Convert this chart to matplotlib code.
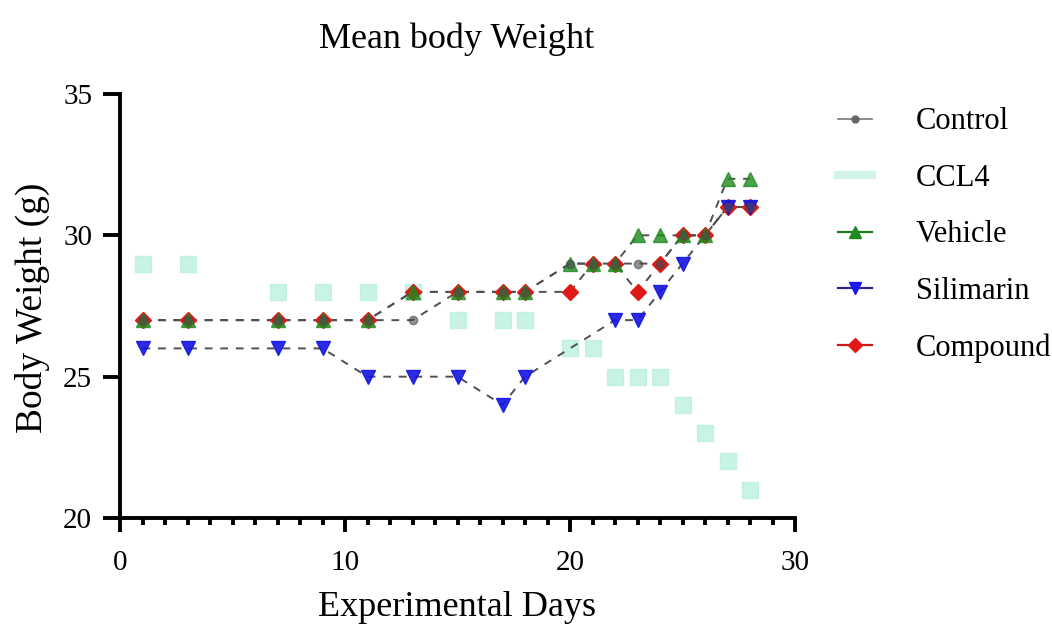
import numpy as np
import matplotlib
matplotlib.use('Agg')
import matplotlib.pyplot as plt
from matplotlib.lines import Line2D

plt.rcParams['font.family'] = ['Liberation Serif', 'DejaVu Serif']

# data
days = [1, 3, 7, 9, 11, 13, 15, 17, 18, 20, 21, 22, 23, 24, 25, 26, 27, 28]
control = [27, 27, 27, 27, 27, 27, 28, 28, 28, 29, 29, 29, 29, 29, 30, 30, 31, 31]
ccl4 = [29, 29, 28, 28, 28, 28, 27, 27, 27, 26, 26, 25, 25, 25, 24, 23, 22, 21]
vehicle = [27, 27, 27, 27, 27, 28, 28, 28, 28, 29, 29, 29, 30, 30, 30, 30, 32, 32]
silimarin = [26, 26, 26, 26, 25, 25, 25, 24, 25, np.nan, np.nan, 27, 27, 28, 29, np.nan, 31, 31]
compound = [27, 27, 27, 27, 27, 28, 28, 28, 28, 28, 29, 29, 28, 29, 30, 30, 31, 31]

labels = ['Control', 'CCL4', 'Vehicle', 'Silimarin', 'Compound']

W, H = 1052, 626
fig = plt.figure(figsize=(W / 100, H / 100), dpi=100)
ax = fig.add_axes([120 / W, 1 - 518 / H, 675 / W, 424 / H])

x = np.array(days, dtype=float)
dash = (4, 4)
line_col = '#505050'

def draw(vals, marker, color, ms, alpha, zorder, line=True):
    y = np.array(vals, dtype=float)
    ok = ~np.isnan(y)
    if line:
        ax.plot(x[ok], y[ok], ls='--', dashes=dash, color=line_col, lw=1.4, zorder=2)
    ax.plot(x[ok], y[ok], ls='none', marker=marker, ms=ms, color=color,
            mec=color, alpha=alpha, zorder=zorder)

# CCL4 - faint aqua squares, no visible line
draw(ccl4, 's', '#b3eedc', 11, 0.7, 1, line=False)
draw(compound, 'D', '#e01818', 8.5, 1.0, 3)
draw(vehicle, '^', '#1f8a1f', 10, 0.8, 4)
draw(silimarin, 'v', '#1414e0', 10, 0.9, 5)
draw(control, 'o', '#4a4a4a', 6, 0.6, 6)

ax.set_xlim(0, 30)
ax.set_ylim(20, 35)
ax.set_xticks([0, 10, 20, 30])
ax.set_xticks(np.arange(0, 31, 1), minor=True)
ax.set_yticks([20, 25, 30, 35])
ax.tick_params(axis='both', which='major', labelsize=21, width=2.8, direction='out')
ax.tick_params(axis='x', which='major', length=10, pad=13)
ax.tick_params(axis='y', which='major', length=12, pad=8)
ax.tick_params(axis='x', which='minor', width=2.8, length=5)
ax.spines['top'].set_visible(False)
ax.spines['right'].set_visible(False)
for s in ['left', 'bottom']:
    ax.spines[s].set_linewidth(2.8)

fig.text(457 / W, 1 - 607 / H, 'Experimental Days', fontsize=26, ha='center', va='center')
fig.text(32 / W, 1 - 308 / H, 'Body Weight (g)', fontsize=27, ha='center', va='center',
         rotation=90)
fig.text(457 / W, 1 - 39 / H, 'Mean body Weight', fontsize=26, ha='center', va='center')

handles = [
    Line2D([], [], color='#777777', lw=1.2, marker='o', ms=5, mfc='#666666', mec='#666666'),
    Line2D([], [], color='#c8f2e6', lw=6, alpha=0.8),
    Line2D([], [], color='#1f7a1f', lw=1.6, marker='^', ms=8, mfc='#1f8a1f', mec='#1f8a1f'),
    Line2D([], [], color='#2a2a8a', lw=1.6, marker='v', ms=8, mfc='#1818e8', mec='#1818e8'),
    Line2D([], [], color='#d01818', lw=1.6, marker='D', ms=7, mfc='#e01818', mec='#e01818'),
]
fig.legend(handles, labels, loc='center left', bbox_to_anchor=(838 / W, 1 - 235 / H),
           frameon=False, fontsize=22, handlelength=1.1, handletextpad=1.45,
           labelspacing=0.9, borderpad=0, borderaxespad=0)

fig.savefig('out.png', dpi=100)
